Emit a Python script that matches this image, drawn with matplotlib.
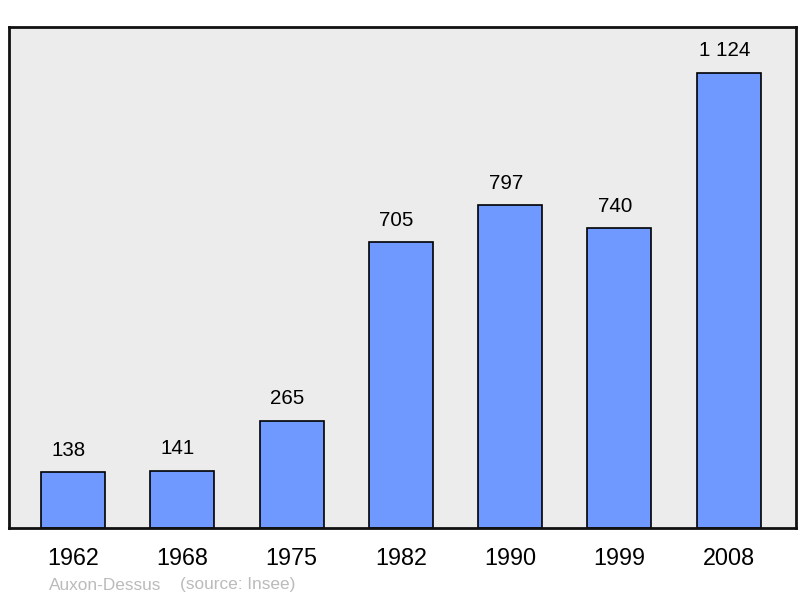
import matplotlib.pyplot as plt

plt.rcParams['font.family'] = ['Liberation Sans', 'DejaVu Sans']

years = ['1962', '1968', '1975', '1982', '1990', '1999', '2008']
population = [138, 141, 265, 705, 797, 740, 1124]
value_labels = ['138', '141', '265', '705', '797', '740', '1 124']

fig = plt.figure(figsize=(8, 5.98), dpi=100)
ax = fig.add_axes([9/800, 1 - 528/598, 787/800, 501/598])
ax.set_facecolor('#ececec')

x = range(len(years))
ax.bar(x, population, width=0.585, color='#7099ff', edgecolor='black', linewidth=1.2, zorder=2)
# value labels sit a touch left of the bar centre in the original
for i, (v, lab) in enumerate(zip(population, value_labels)):
    ax.annotate(lab, (i, v), xytext=(-3.2, 15.8), textcoords='offset points',
                ha='center', va='center', fontsize=14.8)

ax.set_xlim(-0.585, 6.615)
ax.set_ylim(0, 1237)
ax.set_yticks([])
ax.set_xticks(list(x))
ax.set_xticklabels(years, fontsize=16.8)
ax.tick_params(axis='x', length=0, pad=13.5)
for s in ax.spines.values():
    s.set_linewidth(2)
    s.set_color('#111111')

fig.text(49/800, 1 - 585/598, 'Auxon-Dessus', color='#bbbbbb', fontsize=12.4, va='center')
fig.text(180/800, 1 - 585/598, '(source: Insee)', color='#bbbbbb', fontsize=12.4, va='center')

fig.savefig('out.png', dpi=100)
